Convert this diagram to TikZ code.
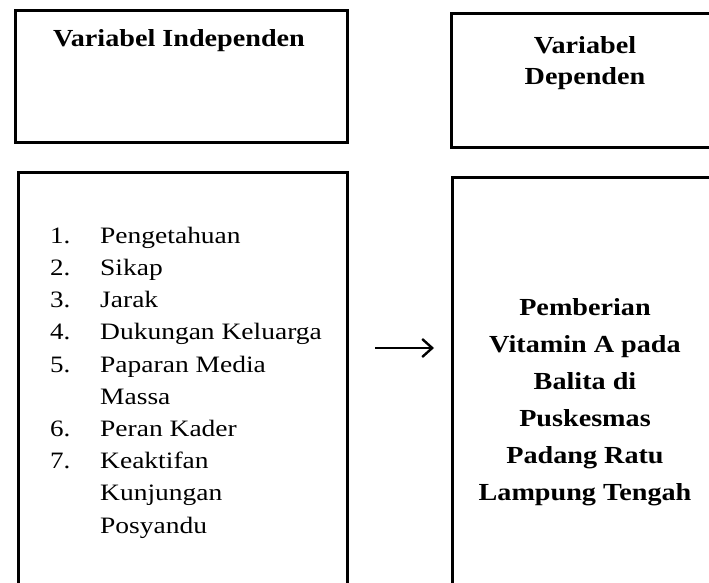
\documentclass[tikz,border=0pt]{standalone}
\usepackage{fontspec}
\setmainfont{Liberation Serif}[FakeStretch=1.15]
\usetikzlibrary{arrows.meta,positioning}

\begin{document}
\begin{tikzpicture}[x=1pt,y=-1pt,
	box/.style={draw,line width=3pt,inner sep=0pt},
	headtext/.style={font=\fontsize{24.5}{31}\selectfont\bfseries,align=center,anchor=base,inner sep=0pt},
	itemtext/.style={font=\fontsize{23.5}{32.2}\selectfont,align=left,anchor=base west,inner sep=0pt},
	arr/.style={-{Straight Barb[length=10pt,width=18pt]},line width=2.4pt}]

\useasboundingbox (0,0) rectangle (709,583);
\clip (0,0) rectangle (709,583);

% boxes
\node[box,minimum width=332pt,minimum height=132pt] (topL) at (181,76.5) {};
\node[box,minimum width=268pt,minimum height=134pt] (topR) at (585,80.5) {};
\node[box,minimum width=329.5pt,minimum height=427pt] (botL) at (183.2,386.4) {};
\node[box,minimum width=267pt,minimum height=423pt] (botR) at (585.5,388.5) {};

% titles (base = last line)
\node[headtext] (indep) at (179,47) {Variabel Independen};
\node[headtext] (dep) at (585,85) {Variabel\\Dependen};

% list
\node[itemtext] (nums) at (50,468.6) {1.\\2.\\3.\\4.\\5.\\[32.2pt]6.\\7.};
\node[itemtext,font=\fontsize{23.5}{32.2}\addfontfeature{FakeStretch=1.17}] (items) at (100,533)
	{Pengetahuan\\Sikap\\Jarak\\Dukungan Keluarga\\Paparan Media\\Massa\\Peran Kader\\Keaktifan\\Kunjungan\\Posyandu};

% outcome
\node[headtext,font=\fontsize{24.5}{37}\selectfont\bfseries] (outcome) at (585,500)
	{Pemberian\\Vitamin A pada\\Balita di\\Puskesmas\\Padang Ratu\\Lampung Tengah};

\coordinate (arrS) at (375,348);
\coordinate (arrE) at (434,348);
\draw[arr] (arrS) -- (arrE);

\end{tikzpicture}
\end{document}
